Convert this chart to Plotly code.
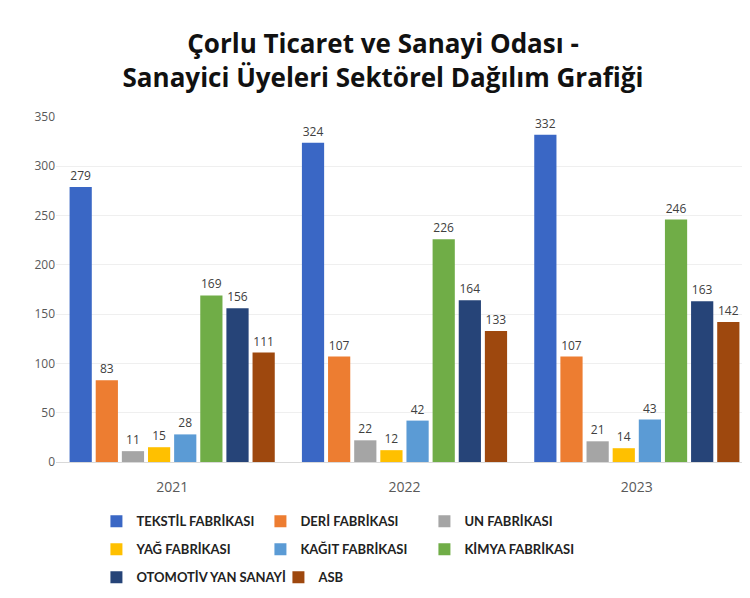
import plotly.graph_objects as go

years = ["2021", "2022", "2023"]

sectors = [
    "TEKSTİL FABRİKASI",
    "DERİ FABRİKASI",
    "UN FABRİKASI",
    "YAĞ FABRİKASI",
    "KAĞIT FABRİKASI",
    "KİMYA FABRİKASI",
    "OTOMOTİV YAN SANAYİ",
    "ASB",
]

tekstil = [279, 324, 332]
deri = [83, 107, 107]
un = [11, 22, 21]
yag = [15, 12, 14]
kagit = [28, 42, 43]
kimya = [169, 226, 246]
otomotiv = [156, 164, 163]
asb = [111, 133, 142]

values = [tekstil, deri, un, yag, kagit, kimya, otomotiv, asb]
colors = ["#3A67C5", "#ED7D31", "#A5A5A5", "#FFC000",
          "#5B9BD5", "#70AD47", "#264478", "#9E480E"]

# one legend per row, three entries per row
legend_ids = ["legend", "legend", "legend",
              "legend2", "legend2", "legend2",
              "legend3", "legend3"]

fig = go.Figure()
for name, vals, col, lg in zip(sectors, values, colors, legend_ids):
    fig.add_trace(go.Bar(
        x=years, y=vals, name="<b>" + name + "</b>",
        marker=dict(color=col, line=dict(width=0)),
        text=vals, textposition="outside",
        textfont=dict(size=12, color="#404040", family="Open Sans"),
        cliponaxis=False, legend=lg,
    ))

legend_style = dict(
    orientation="h", x=0.058, xanchor="left", yanchor="middle",
    entrywidth=119, entrywidthmode="pixels",
    font=dict(size=13, color="#222222", family="Lato"),
    itemwidth=30, traceorder="normal", bgcolor="rgba(0,0,0,0)",
)

fig.update_layout(
    width=750, height=598,
    paper_bgcolor="white", plot_bgcolor="white",
    title=dict(
        text="<b>Çorlu Ticaret ve Sanayi Odası -<br>Sanayici Üyeleri Sektörel Dağılım Grafiği</b>",
        x=0.5, xanchor="center", y=0.925, yanchor="top",
        font=dict(family="Open Sans", size=26, color="#111111"),
    ),
    barmode="group", bargap=0.1, bargroupgap=0.15,
    margin=dict(l=48, r=5, t=109, b=144),
    font=dict(family="Open Sans", color="#595959"),
    legend=dict(legend_style, y=-0.172),
    legend2=dict(legend_style, y=-0.253),
    legend3=dict(legend_style, y=-0.334, entrywidth=137),
)
fig.update_xaxes(showgrid=False, showline=True, linecolor="#d9d9d9",
                 tickfont=dict(size=14, color="#595959"), ticks="",
                 ticklabelstandoff=12)
fig.update_yaxes(range=[0, 350], dtick=50, showgrid=True, gridcolor="#efefef",
                 zeroline=False, tickfont=dict(size=12, color="#595959"))

fig.write_html("out.html")
